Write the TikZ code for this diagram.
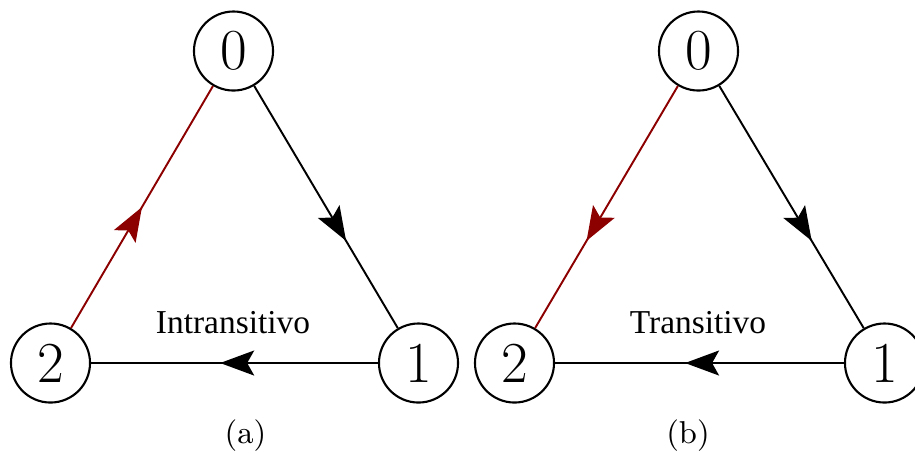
\documentclass[tikz,border=0pt]{standalone}
\usepackage{fontspec}
\newfontfamily\labelfont{Liberation Serif}
\usetikzlibrary{arrows.meta,decorations.markings}
\definecolor{edgered}{RGB}{140,0,0}
\tikzset{
  vertex/.style={circle,draw,line width=0.6pt,minimum size=0.79cm,inner sep=0pt,
    font=\fontsize{16.5}{19}\selectfont},
  link/.style={line width=0.55pt},
  tipat/.style={postaction={decorate},decoration={markings,
    mark=at position #1 with {\arrow{Stealth[length=0.34cm,width=0.25cm,inset=0.07cm]}}}},
  typelabel/.style={font=\labelfont\fontsize{9.5}{11}\selectfont},
  sublabel/.style={font=\fontsize{9}{11}\selectfont}
}
\begin{document}
\begin{tikzpicture}[x=0.01cm,y=-0.01cm]
  \useasboundingbox (0,0) rectangle (915,453);
  % (a) intransitive triangle
  \node[vertex] (a0) at (233.5,51) {0};
  \node[vertex] (a1) at (418.5,363) {1};
  \node[vertex] (a2) at (50.5,363) {2};
  \draw[link,tipat=0.64] (a0) -- (a1);
  \draw[link,tipat=0.55] (a1) -- (a2);
  \draw[link,edgered,tipat=0.5] (a2) -- (a0);
  \node[typelabel] (ta) at (233,323) {Intransitivo};
  \node[sublabel] (la) at (245.5,436) {(a)};
  % (b) transitive triangle
  \node[vertex] (b0) at (698.5,51) {0};
  \node[vertex] (b1) at (884.5,363) {1};
  \node[vertex] (b2) at (514.5,363) {2};
  \draw[link,tipat=0.64] (b0) -- (b1);
  \draw[link,tipat=0.55] (b1) -- (b2);
  \draw[link,edgered,tipat=0.64] (b0) -- (b2);
  \node[typelabel] (tb) at (698,323) {Transitivo};
  \node[sublabel] (lb) at (688,436) {(b)};
\end{tikzpicture}
\end{document}
